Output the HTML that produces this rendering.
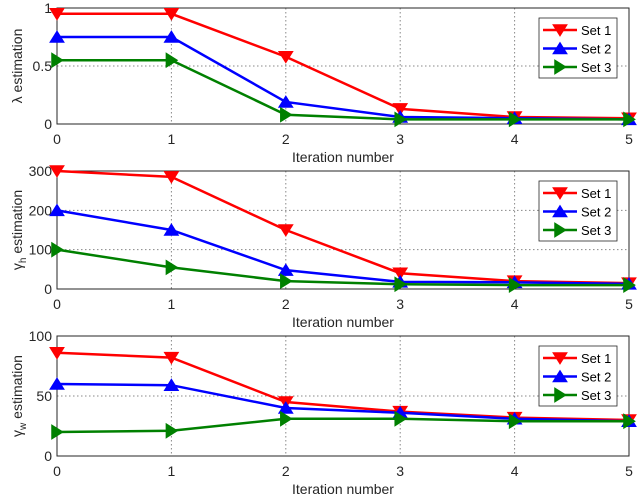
<!DOCTYPE html>
<html><head><meta charset="utf-8"><style>body{margin:0;background:#fff}svg{display:block;font-family:"Liberation Sans",sans-serif}</style></head>
<body>
<svg id="c" width="640" height="497"></svg>
<script>
const iterations=[0,1,2,3,4,5];
const lambdaSet1=[0.95,0.95,0.58,0.13,0.06,0.05];
const lambdaSet2=[0.75,0.75,0.19,0.06,0.05,0.04];
const lambdaSet3=[0.55,0.55,0.08,0.04,0.04,0.04];
const gammaHSet1=[300,285,150,40,20,15];
const gammaHSet2=[200,150,48,18,17,13];
const gammaHSet3=[100,55,20,12,10,10];
const gammaWSet1=[86,82,45,37,32,30];
const gammaWSet2=[60,59,40,36,31,29];
const gammaWSet3=[20,21,31,31,29,29];
const lambdaTicks=[0,0.5,1];
const gammaHTicks=[0,100,200,300];
const gammaWTicks=[0,50,100];
const seriesNames=["Set 1","Set 2","Set 3"];
const colors=["#ff0000","#0000ff","#008000"];
const NS="http://www.w3.org/2000/svg";
const svg=document.getElementById('c');
function mk(t,a,p){const e=document.createElementNS(NS,t);for(const k in a)e.setAttribute(k,a[k]);(p||svg).appendChild(e);return e;}
function marker(g,i,x,y){const s=7;let pts;
 if(i==0)pts=[[x-s,y-s*0.75],[x+s,y-s*0.75],[x,y+s*0.85]];
 else if(i==1)pts=[[x-s,y+s*0.75],[x+s,y+s*0.75],[x,y-s*0.85]];
 else pts=[[x-s*0.75,y-s],[x-s*0.75,y+s],[x+s*0.85,y]];
 const m=mk('polygon',{points:pts.map(p=>p.join(',')).join(' '),fill:colors[i],stroke:colors[i],'stroke-width':1},g);
 
 }
function panel(name,top,bot,ymax,ticks,sets,ylabel,sub){
 const L=57,R=629;
 const g=mk('g',{});
 
 
 const xs=v=>L+(R-L)*v/5, ys=v=>bot-(bot-top)*v/ymax;
 mk('rect',{x:L,y:top,width:R-L,height:bot-top,fill:'#fff',stroke:'none'},g);
 iterations.forEach(v=>{if(v>0&&v<5)mk('line',{x1:xs(v),x2:xs(v),y1:top,y2:bot,stroke:'#888','stroke-dasharray':'1.5,2.5','stroke-width':1},g);
  const t=mk('text',{x:xs(v),y:bot+20,'text-anchor':'middle','font-size':14,fill:'#262626'},g);t.textContent=v;
  });
 ticks.forEach(v=>{if(v>0&&v<ymax)mk('line',{x1:L,x2:R,y1:ys(v),y2:ys(v),stroke:'#888','stroke-dasharray':'1.5,2.5','stroke-width':1},g);
  const t=mk('text',{x:L-5,y:ys(v)+5,'text-anchor':'end','font-size':14,fill:'#262626'},g);t.textContent=v;
  });
 mk('rect',{x:L,y:top,width:R-L,height:bot-top,fill:'none',stroke:'#262626','stroke-width':1},g);
 sets.forEach((s,i)=>{const p=mk('polyline',{points:s.map((v,j)=>xs(iterations[j])+','+ys(v)).join(' '),fill:'none',stroke:colors[i],'stroke-width':2.5},g);
  
  s.forEach((v,j)=>marker(g,i,xs(iterations[j]),ys(v)));});
 const xl=mk('text',{x:(L+R)/2,y:bot+38,'text-anchor':'middle','font-size':14,fill:'#262626'},g);xl.textContent='Iteration number';
 
 const yl=mk('text',{transform:`translate(22,${(top+bot)/2}) rotate(-90)`,'text-anchor':'middle','font-size':14,fill:'#262626'},g);
 
 if(sub){const a=mk('tspan',{},yl);a.textContent='γ';const b=mk('tspan',{'font-size':10,dy:4},yl);b.textContent=sub;const c=mk('tspan',{dy:-4},yl);c.textContent=' estimation';}
 else yl.textContent=ylabel;
 const lx=539,ly=top+10,lg=mk('g',{},g);
 
 mk('rect',{x:lx,y:ly,width:78,height:60,fill:'#fff',stroke:'#262626','stroke-width':0.8},lg);
 seriesNames.forEach((n,i)=>{const y=ly+12+i*18.5;
  mk('line',{x1:lx+4,x2:lx+38,y1:y,y2:y,stroke:colors[i],'stroke-width':2.5},lg);marker(lg,i,lx+21,y);
  const t=mk('text',{x:lx+42,y:y+5,'font-size':13,fill:'#000'},lg);t.textContent=n;
  });
}
panel('lambda-panel',8,124,1,lambdaTicks,[lambdaSet1,lambdaSet2,lambdaSet3],'λ estimation');
panel('gamma-h-panel',171,289,300,gammaHTicks,[gammaHSet1,gammaHSet2,gammaHSet3],'','h');
panel('gamma-w-panel',336,456,100,gammaWTicks,[gammaWSet1,gammaWSet2,gammaWSet3],'','w');
</script>
</body></html>
